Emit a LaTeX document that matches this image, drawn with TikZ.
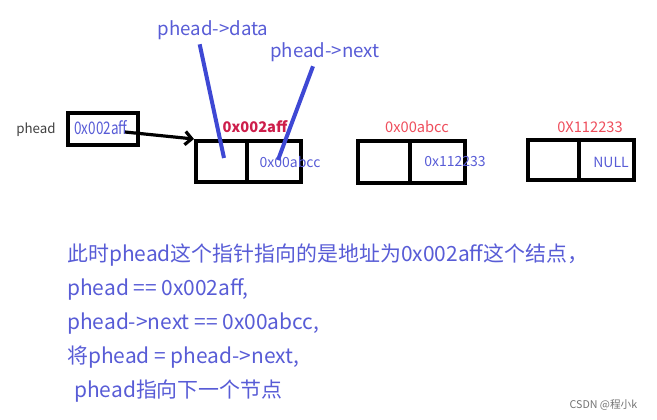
\documentclass[tikz,border=0pt]{standalone}
\usepackage{fontspec}
\usetikzlibrary{arrows.meta}
\setmainfont{Noto Sans CJK SC}
\newfontfamily\narrowfont[FakeStretch=0.78]{Noto Sans CJK SC}

\definecolor{txtblue}{RGB}{88,92,214}
\definecolor{lineblue}{RGB}{62,72,212}
\definecolor{addrred}{RGB}{238,78,92}
\definecolor{addrdark}{RGB}{205,30,75}

\tikzset{
  cell/.style={draw=black, line width=3pt, minimum height=30.75pt, inner sep=0pt},
  addr/.style={text=addrred, font=\fontsize{11pt}{13pt}\selectfont},
  val/.style={text=txtblue, font=\fontsize{10.5pt}{12pt}\selectfont},
  lbl/.style={text=txtblue, font=\fontsize{14pt}{16pt}\selectfont},
  pointer/.style={lineblue, line width=3pt},
  say/.style={anchor=base west, text=txtblue, inner sep=0pt, font=\fontsize{15.7pt}{19pt}\selectfont}
}

\begin{document}
\begin{tikzpicture}[x=0.75pt, y=-0.75pt]
  \useasboundingbox (0,0) rectangle (657,419);

  % head pointer
  \node[text=black!75, font=\fontsize{10pt}{12pt}\selectfont] (hname) at (36,130) {phead};
  \node[draw=black, line width=3pt, minimum width=52.5pt, minimum height=24pt] (head) at (103,129) {};
  \node[text=txtblue, font=\narrowfont\fontsize{13pt}{15pt}\selectfont] (headval) at (101,128) {0x002aff};

  % node 1
  \node[cell, minimum width=38.25pt] (d1) at (221.5,161.5) {};
  \node[cell, minimum width=40.5pt] (n1) at (274,161.5) {};
  \node[addr, text=addrdark, font=\bfseries\fontsize{11pt}{13pt}\selectfont] (a1) at (255,127) {0x002aff};
  \node[val] (v1) at (290,162) {0x00abcc};

  % node 2
  \node[cell, minimum width=39pt, minimum height=31.5pt] (d2) at (384,162) {};
  \node[cell, minimum width=41.25pt, minimum height=31.5pt] (n2) at (437.5,162) {};
  \node[addr] (a2) at (417,127) {0x00abcc};
  \node[val] (v2) at (455,162) {0x112233};

  % node 3
  \node[cell, minimum width=38.25pt, minimum height=30pt] (d3) at (553.5,160) {};
  \node[cell, minimum width=41.25pt, minimum height=30pt] (n3) at (606.5,160) {};
  \node[addr] (a3) at (590,127) {0X112233};
  \node[val] (v3) at (611,162) {NULL};

  % arrow phead -> node 1
  \coordinate (hstart) at (125,132);
  \draw[line width=2.4pt, -{Straight Barb[length=5pt, width=10pt]}] (hstart) -- (d1.north west);

  % data / next labels
  \node[lbl] (ldata) at (213,30) {phead->data};
  \node[lbl] (lnext) at (325,52) {phead->next};
  \coordinate (pdata) at (224,158);
  \coordinate (pnext) at (278,160);
  \draw[pointer] ([xshift=-10]ldata.south) -- (pdata);
  \draw[pointer] ([xshift=-9]lnext.south) -- (pnext);

  % explanation
  \node[say] (s1) at (67,261) {此时phead这个指针指向的是地址为0x002aff这个结点，};
  \node[say] (s2) at (67,295) {phead == 0x002aff,};
  \node[say] (s3) at (67,329) {phead->next == 0x00abcc,};
  \node[say] (s4) at (67,363) {将phead = phead->next,};
  \node[say] (s5) at (74,397) {phead指向下一个节点};

  \node[text=black!55, font=\fontsize{8pt}{10pt}\selectfont, anchor=base east] (mark) at (642,408) {CSDN @程小k};

\end{tikzpicture}
\end{document}
